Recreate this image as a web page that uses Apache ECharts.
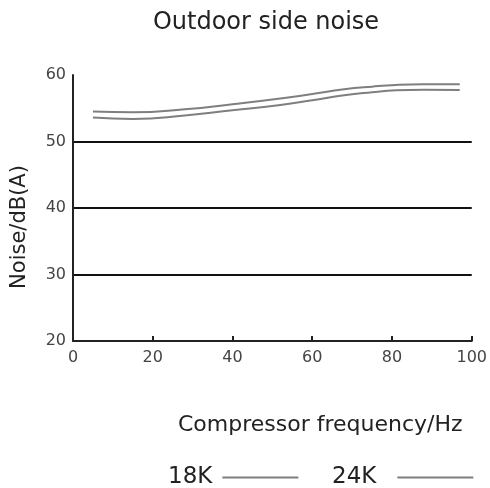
<!DOCTYPE html>
<html>
<head>
<meta charset="utf-8">
<script src="https://cdn.jsdelivr.net/npm/echarts@6/dist/echarts.min.js"></script>
<style>html,body{margin:0;padding:0;background:#fff}#c{width:490px;height:488px}</style>
</head>
<body>
<div id="c"></div>
<script>
const freq = [5, 15, 28, 40, 52, 60, 68, 75, 81, 88, 97];
const noise18K = [53.6, 53.4, 53.9, 54.7, 55.5, 56.2, 56.95, 57.4, 57.7, 57.8, 57.75];
const noise24K = [54.5, 54.4, 54.85, 55.6, 56.45, 57.15, 57.85, 58.25, 58.5, 58.6, 58.6];
const seriesNames = ['18K', '24K'];

const font = 'DejaVu Sans';
const chart = echarts.init(document.getElementById('c'), null, {renderer: 'canvas'});
const pairs = a => freq.map((f, i) => [f, a[i]]);
const legendBase = {
  top: 461, align: 'right', itemWidth: 76, itemHeight: 2, icon: 'rect'
};
chart.setOption({
  animation: false,
  backgroundColor: '#fff',
  title: {
    text: 'Outdoor side noise', left: 261, top: 6, textAlign: 'center',
    textStyle: {fontFamily: font, fontSize: 24, fontWeight: 'normal', color: '#222'}
  },
  grid: {left: 73, right: 18, top: 75, bottom: 147, containLabel: false},
  xAxis: {
    type: 'value', min: 0, max: 100, interval: 20,
    axisLine: {show: true, lineStyle: {color: '#222', width: 2}},
    axisTick: {show: true, inside: true, length: 5, lineStyle: {color: '#222', width: 2}},
    axisLabel: {fontFamily: font, fontSize: 16, color: '#444', margin: 9},
    splitLine: {show: false}
  },
  yAxis: {
    type: 'value', min: 20, max: 60, interval: 10,
    axisLine: {show: true, lineStyle: {color: '#222', width: 2}},
    axisTick: {show: false},
    axisLabel: {fontFamily: font, fontSize: 16, color: '#444', margin: 7},
    splitLine: {show: true, showMinLine: false, showMaxLine: false, lineStyle: {color: '#111', width: 2}}
  },
  legend: [
    Object.assign({}, legendBase, {data: [seriesNames[0]], left: 163,
      textStyle: {fontFamily: font, fontSize: 23, color: '#222', padding: [0, 5, 0, 0]}}),
    Object.assign({}, legendBase, {data: [seriesNames[1]], left: 327,
      textStyle: {fontFamily: font, fontSize: 23, color: '#222', padding: [0, 16, 0, 0]}})
  ],
  graphic: [{
    type: 'text', left: 178, top: 414,
    style: {text: 'Compressor frequency/Hz', font: '22px "DejaVu Sans"', fill: '#222'}
  }, {
    type: 'text', x: 20, y: 227, rotation: Math.PI / 2,
    style: {text: 'Noise/dB(A)', font: '21px "DejaVu Sans"', fill: '#222', align: 'center', verticalAlign: 'middle'}
  }],
  series: [
    {name: seriesNames[0], type: 'line', smooth: true, showSymbol: false, data: pairs(noise18K),
     lineStyle: {color: '#7f7f7f', width: 2}, itemStyle: {color: '#7f7f7f'}},
    {name: seriesNames[1], type: 'line', smooth: true, showSymbol: false, data: pairs(noise24K),
     lineStyle: {color: '#7f7f7f', width: 2}, itemStyle: {color: '#7f7f7f'}}
  ]
});
</script>
</body>
</html>
